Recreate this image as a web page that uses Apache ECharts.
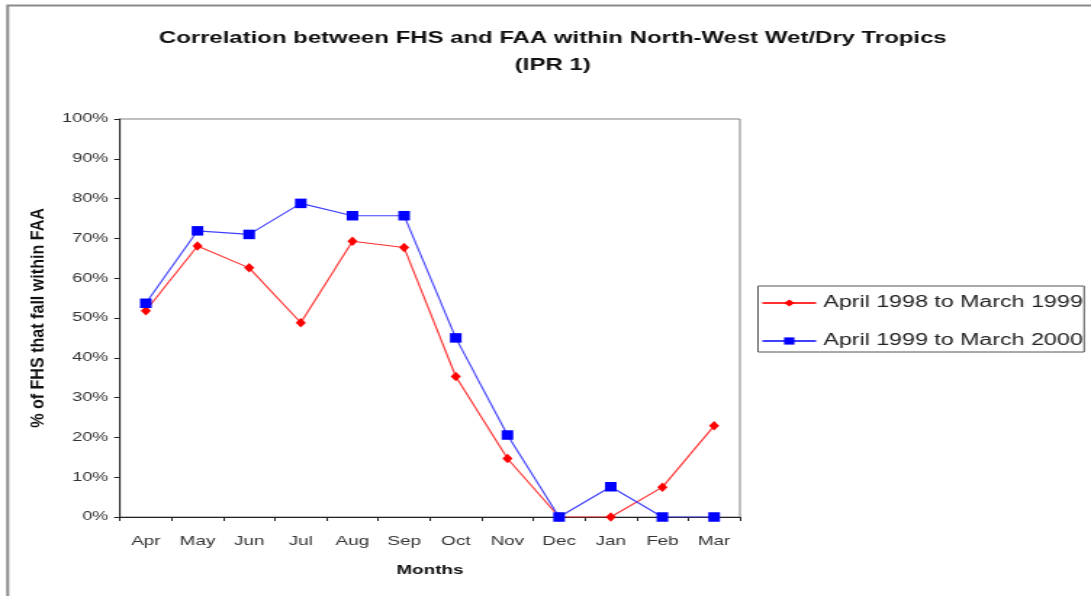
<!DOCTYPE html>
<html>
<head>
    <meta charset="utf-8">
    <title>FHS / FAA correlation</title>
    <script src="https://cdn.jsdelivr.net/npm/echarts@6/dist/echarts.min.js"></script>
    <style>
        html, body {
            margin: 0;
            width: 100%;
            height: 100%;
            background: #fff;
            overflow: hidden;
        }

        /* the source picture is stretched sideways, so the chart is drawn
           narrower and widened to 1091px */
        #main {
            width: 752px;
            height: 596px;
            transform: scaleX(1.4508);
            transform-origin: 0 0;
        }
    </style>
</head>
<body>
<div id="main"></div>
<script type="text/javascript">
    var myChart = echarts.init(document.getElementById('main'));

    // months along the x axis
    const months = ['Apr', 'May', 'Jun', 'Jul', 'Aug', 'Sep', 'Oct', 'Nov', 'Dec', 'Jan', 'Feb', 'Mar'];

    // % of FHS that fall within FAA
    const season9899 = [51.8, 68.1, 62.6, 48.8, 69.3, 67.7, 35.3, 14.7, 0, 0, 7.5, 22.9];
    const season9900 = [53.7, 71.9, 71.0, 78.8, 75.7, 75.7, 45.0, 20.6, 0, 7.6, 0, 0];

    const seriesNames = ['April 1998 to March 1999', 'April 1999 to March 2000'];

    const font = 'Arial, "Liberation Sans", sans-serif';

    var option = {
        animation: false,
        textStyle: {fontFamily: font},
        title: {
            text: 'Correlation between FHS and FAA within North-West Wet/Dry Tropics\n(IPR 1)',
            left: 376,
            top: 20,
            textAlign: 'center',
            textStyle: {
                fontFamily: font,
                fontSize: 16.5,
                fontWeight: 'bold',
                color: '#111',
                lineHeight: 27
            }
        },
        graphic: [{
            type: 'rect',
            shape: {x: 5.3, y: 5.5, width: 760, height: 600},
            style: {fill: 'none', stroke: '#8a8a8a', lineWidth: 2},
            silent: true
        }, {
            // y axis title, drawn long and narrow like the source
            type: 'text',
            x: 26.5,
            y: 318,
            rotation: Math.PI / 2,
            scaleX: 1.34,
            style: {
                text: '% of FHS that fall within FAA',
                font: 'bold 12px ' + font,
                fill: '#111',
                align: 'center',
                verticalAlign: 'middle'
            },
            silent: true
        }],
        legend: {
            orient: 'vertical',
            left: 522.5,
            top: 286,
            padding: [9, 1, 3, 2],
            itemGap: 22,
            itemWidth: 37,
            itemHeight: 9,
            borderColor: '#555',
            borderWidth: 1,
            borderRadius: 0,
            textStyle: {fontFamily: font, fontSize: 16, color: '#222'},
            data: seriesNames
        },
        grid: {
            left: 82.7,
            right: 242,
            top: 119,
            bottom: 79,
            show: true,
            borderColor: '#808080',
            borderWidth: 1,
            backgroundColor: '#fff'
        },
        xAxis: {
            type: 'category',
            data: months,
            boundaryGap: true,
            name: 'Months',
            nameLocation: 'middle',
            nameGap: 47,
            nameTextStyle: {fontFamily: font, fontSize: 13, fontWeight: 'bold', color: '#111'},
            axisLine: {lineStyle: {color: '#222', width: 1}},
            axisTick: {show: true, inside: false, length: 4, lineStyle: {color: '#222'}},
            axisLabel: {fontFamily: font, fontSize: 13, color: '#333', margin: 18}
        },
        yAxis: {
            type: 'value',
            min: 0,
            max: 100,
            interval: 10,
            axisLine: {show: true, lineStyle: {color: '#222', width: 1}},
            axisTick: {show: true, length: 4, lineStyle: {color: '#222'}},
            splitLine: {show: false},
            axisLabel: {
                fontFamily: font,
                fontSize: 12.5,
                color: '#333',
                margin: 8,
                formatter: '{value}%'
            }
        },
        series: [
            {
                name: seriesNames[0],
                type: 'line',
                data: season9899,
                symbol: 'diamond',
                symbolSize: [7, 9.5],
                itemStyle: {color: '#ff0000'},
                lineStyle: {color: '#ff3030', width: 1.1}
            },
            {
                name: seriesNames[1],
                type: 'line',
                data: season9900,
                symbol: 'rect',
                symbolSize: [8, 9.5],
                itemStyle: {color: '#0000ff'},
                lineStyle: {color: '#4040ff', width: 1.1}
            }
        ]
    };

    myChart.setOption(option);
</script>
</body>
</html>
